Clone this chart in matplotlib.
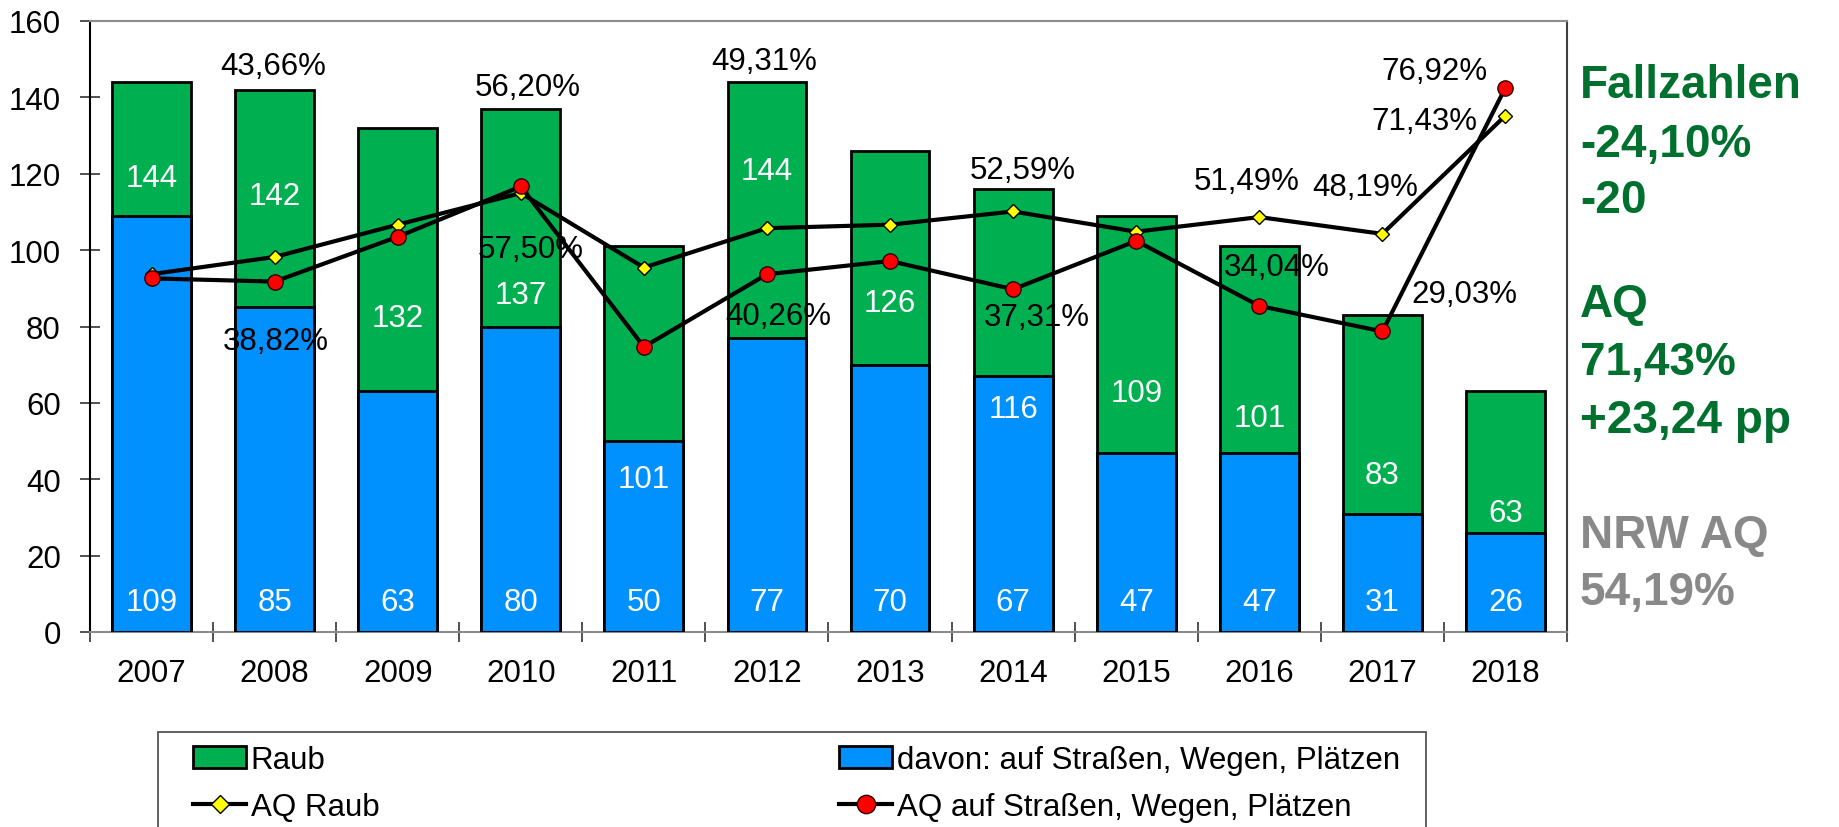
import matplotlib
matplotlib.use("Agg")
import matplotlib.pyplot as plt
from matplotlib.patches import Rectangle
import numpy as np

plt.rcParams['font.family'] = ['Liberation Sans', 'DejaVu Sans']

# ---------------- data ----------------
years = ['2007', '2008', '2009', '2010', '2011', '2012', '2013', '2014', '2015', '2016', '2017', '2018']
raub = [144, 142, 132, 137, 101, 144, 126, 116, 109, 101, 83, 63]
strassen = [109, 85, 63, 80, 50, 77, 70, 67, 47, 47, 31, 26]
aq_raub = [40.28, 43.66, 50.00, 56.20, 41.58, 49.31, 50.00, 52.59, 48.62, 51.49, 48.19, 71.43]
aq_strassen = [39.45, 38.82, 47.62, 57.50, 26.00, 40.26, 42.86, 37.31, 46.81, 34.04, 29.03, 76.92]

# which years carry a percentage label
aq_raub_labelled = ['2008', '2010', '2012', '2014', '2016', '2017', '2018']
aq_strassen_labelled = ['2008', '2010', '2012', '2014', '2016', '2017', '2018']

legend_labels = ['Raub', 'davon: auf Straßen, Wegen, Plätzen', 'AQ Raub', 'AQ auf Straßen, Wegen, Plätzen']
side_text_1 = ['Fallzahlen', '-24,10%', '-20']
side_text_2 = ['AQ', '71,43%', '+23,24 pp']
side_text_3 = ['NRW AQ', '54,19%']

# ---------------- layout / styles ----------------
GREEN = '#00B050'
BLUE = '#0091FF'
DKGREEN = '#00702F'
GRAY = '#898989'
FS = 22.5

W, H = 1839, 828
fig = plt.figure(figsize=(W / 100, H / 100), dpi=100)
ax = fig.add_axes([90 / W, 1 - 633 / H, (1567 - 90) / W, (633 - 22) / H])

x = np.arange(len(years))
bw = 0.64
ax.bar(x, raub, bw, color=GREEN, edgecolor='black', linewidth=2, zorder=2, label=legend_labels[0])
ax.bar(x, strassen, bw, color=BLUE, edgecolor='black', linewidth=2, zorder=3, label=legend_labels[1])

ax.set_xlim(-0.5, len(years) - 0.5)
ax.set_ylim(0, 160)
ax.set_yticks(np.arange(0, 161, 20))
ax.set_xticks(x)
ax.set_xticklabels(years)
ax.set_xticks(np.arange(-0.5, len(years), 1), minor=True)
ax.tick_params(axis='y', direction='inout', length=14, width=1.2, labelsize=FS, pad=14, color='#333333')
ax.tick_params(axis='x', which='major', length=0, labelsize=FS, pad=19)
ax.tick_params(axis='x', which='minor', direction='inout', length=14, width=1.2, color='#333333')
ax.spines['top'].set_color('#8c8c8c')
ax.spines['right'].set_color('#404040')
ax.spines['bottom'].set_color('#8c8c8c')
ax.spines['left'].set_color('black')
for s in ax.spines.values():
    s.set_linewidth(1.5)

# white value labels (label heights in data units of primary axis)
raub_label_y = [118.9, 114.1, 82.2, 88.3, 40.0, 120.6, 86.1, 58.3, 62.6, 56.0, 41.2, 31.2]
for xi, v, ly in zip(x, raub, raub_label_y):
    ax.text(xi, ly, str(v), color='white', fontsize=FS, ha='center', va='center', zorder=5)
for xi, v in zip(x, strassen):
    ax.text(xi, 7.8, str(v), color='white', fontsize=FS, ha='center', va='center', zorder=5)

# secondary (hidden) axis for the rates
ax2 = ax.twinx()
ax2.set_ylim(-30, 90)
ax2.axis('off')
l1, = ax2.plot(x, aq_raub, color='black', lw=3, marker='D', ms=7.5, mfc='#FFFF00', mec='black',
               mew=1, zorder=3, label=legend_labels[2])
l2, = ax2.plot(x, aq_strassen, color='black', lw=3, marker='o', ms=11, mfc='#FF0000', mec='#300000',
               mew=1, zorder=4, label=legend_labels[3])

def fmt(v):
    return f'{v:.2f}%'.replace('.', ',')

raub_label_pos = {'2008': (0.99, 148.2), '2010': (3.06, 142.7), '2012': (4.98, 149.5), '2014': (7.08, 120.9),
                  '2016': (8.90, 118.1), '2017': (9.86, 116.5), '2018': (10.34, 133.9)}
str_label_pos = {'2008': (1.01, 76.2), '2010': (3.08, 100.3), '2012': (5.09, 82.7), '2014': (7.19, 82.5),
                 '2016': (9.14, 95.5), '2017': (10.67, 88.5), '2018': (10.42, 146.9)}
for yr in aq_raub_labelled:
    i = years.index(yr)
    px, py = raub_label_pos[yr]
    ax.text(px, py, fmt(aq_raub[i]), fontsize=FS, ha='center', va='center', color='black', zorder=6)
for yr in aq_strassen_labelled:
    i = years.index(yr)
    px, py = str_label_pos[yr]
    ax.text(px, py, fmt(aq_strassen[i]), fontsize=FS, ha='center', va='center', color='black', zorder=6)

# side annotations
tx = 1580 / W
for txt, base in zip(side_text_1, [98, 157, 213]):
    fig.text(tx, 1 - base / H, txt, fontsize=33, fontweight='bold', color=DKGREEN, va='baseline', ha='left')
for txt, base in zip(side_text_2, [317, 375, 433]):
    fig.text(tx, 1 - base / H, txt, fontsize=33, fontweight='bold', color=DKGREEN, va='baseline', ha='left')
for txt, base in zip(side_text_3, [548, 605]):
    fig.text(tx, 1 - base / H, txt, fontsize=33, fontweight='bold', color=GRAY, va='baseline', ha='left')

# legend frame (extends past the bottom edge like the original)
fig.patches.append(Rectangle((158 / W, -0.05), (1426 - 158) / W, 0.05 + 1 - 733 / H,
                             transform=fig.transFigure, facecolor='white', edgecolor='#444444',
                             linewidth=1.2, zorder=0))

h_bar, lab_bar = ax.get_legend_handles_labels()
handles = [h_bar[0], l1, h_bar[1], l2]
labels = [legend_labels[0], legend_labels[2], legend_labels[1], legend_labels[3]]
leg = fig.legend(handles, labels, loc='upper left', ncol=2, mode='expand',
                 bbox_to_anchor=(193 / W, 0, (1400 - 193) / W, 1 - 746 / H),
                 fontsize=FS, frameon=False, markerscale=1.2,
                 handlelength=1.7, handletextpad=0.15, borderpad=0, labelspacing=0.53,
                 borderaxespad=0, columnspacing=1.0)

fig.savefig('out.png', dpi=100)
